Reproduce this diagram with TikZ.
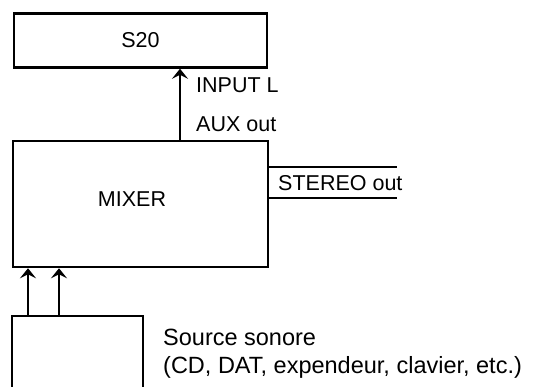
\documentclass[tikz,border=0pt]{standalone}
\usepackage{fontspec}
\setmainfont{Liberation Sans}
\usetikzlibrary{arrows.meta}
\begin{document}
\begin{tikzpicture}[x=1pt,y=-1pt,
  every node/.style={font=\fontsize{21.5}{26}\selectfont},
  box/.style={draw,line width=2.5pt,inner sep=0pt},
  lbl/.style={inner sep=0pt,anchor=base west},
  biglbl/.style={lbl,font=\fontsize{23.5}{28}\selectfont},
  wire/.style={line width=2.5pt},
  arr/.style={line width=2.5pt,-{Stealth[length=10pt,width=16pt,inset=4pt]}}]
\useasboundingbox (0,0) rectangle (534,387);
\clip (0,0) rectangle (534,387);
% boxes
\node[box,minimum width=253pt,minimum height=54pt] (s20) at (140.5,40.5) {S20};
\node[box,minimum width=255pt,minimum height=126pt] (mixer) at (140.5,204) {};
\node[inner sep=0pt] (mixerlbl) at (132,199) {MIXER};
\node[box,minimum width=131pt,minimum height=84pt] (src) at (77.5,358) {};
% coordinates
\coordinate (aux) at (180,0);
\coordinate (in1) at (28,0);
\coordinate (in2) at (59,0);
\coordinate (st1) at (397,167);
\coordinate (st2) at (397,198);
% connectors
\draw[arr] (mixer.north -| aux) -- (s20.south -| aux);
\draw[arr] (src.north -| in1) -- (mixer.south -| in1);
\draw[arr] (src.north -| in2) -- (mixer.south -| in2);
\draw[wire] (st1 -| mixer.east) -- (st1);
\draw[wire] (st2 -| mixer.east) -- (st2);
% labels
\node[lbl] (inputl) at (196,93) {INPUT L};
\node[lbl] (auxout) at (196,132) {AUX out};
\node[lbl] (stereo) at (278,190) {STEREO out};
\node[biglbl] (src1) at (163,345) {Source sonore};
\node[biglbl] (src2) at (163,373) {(CD, DAT, expendeur, clavier, etc.)};
\end{tikzpicture}
\end{document}
